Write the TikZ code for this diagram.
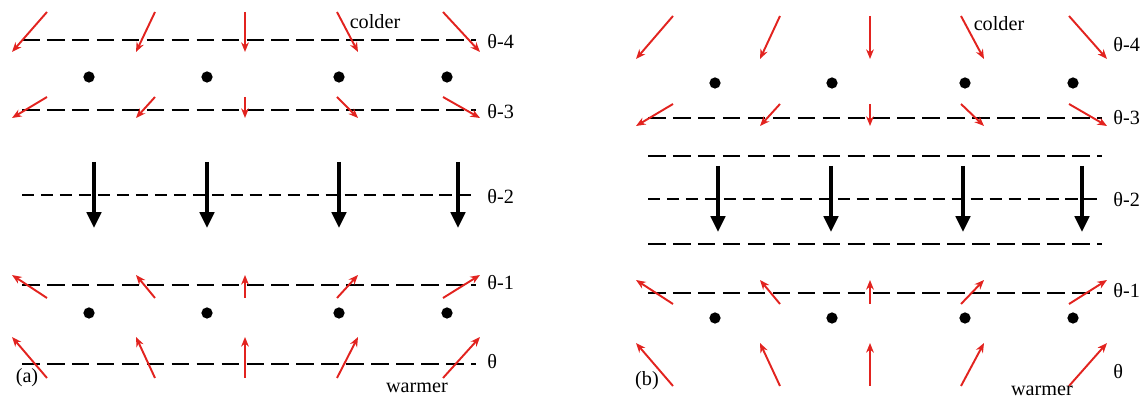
\documentclass[tikz,border=0pt]{standalone}
\usepackage{fontspec}
\setmainfont{Liberation Serif}
\usetikzlibrary{arrows.meta}
\definecolor{vecred}{HTML}{E2231F}

\begin{document}
\begin{tikzpicture}[
  x=0.02cm, y=-0.02cm,
  isen/.style={line width=1.5pt, dash pattern=on 10pt off 4.2pt},
  isenfine/.style={line width=1.5pt, dash pattern=on 7pt off 3.8pt},
  wind/.style={-{Stealth[length=5.5pt,width=4.4pt]}, color=vecred, line width=1.1pt},
  flow/.style={-{Triangle[length=9pt,width=8pt]}, line width=2.4pt},
  lbl/.style={font=\fontsize{11.5}{13}\selectfont, inner sep=0pt}
]
\useasboundingbox (0,0) rectangle (1143,401);

% (a) isentropes
\draw[isen] (22,40) -- (476,40);
\draw[isen] (22,110) -- (476,110);
\draw[isenfine] (22,195) -- (476,195);
\draw[isen] (22,285) -- (476,285);
\draw[isen] (22,364) -- (476,364);

% (a) parcel motions
\foreach \tx/\hx in {47/12,155/136,245/245,337/358,443/480} {
  \draw[wind] (\tx,12) -- (\hx,52);
  \draw[wind] (\tx,97) -- (\hx,118);
  \draw[wind] (\tx,298) -- (\hx,275);
  \draw[wind] (\tx,378) -- (\hx,337);
}
\foreach \px in {89,207,339,447} {
  \fill (\px,77) circle[radius=3.2pt];
  \fill (\px,313) circle[radius=3.2pt];
}
\foreach \px in {94,207,339,458}
  \draw[flow] (\px,162) -- (\px,228);

\node[lbl, anchor=west] (a4) at (487,42) {θ-4};
\node[lbl, anchor=west] (a3) at (487,112) {θ-3};
\node[lbl, anchor=west] (a2) at (487,197) {θ-2};
\node[lbl, anchor=west] (a1) at (487,283) {θ-1};
\node[lbl, anchor=west] (a0) at (487,362) {θ};
\node[lbl] (acold) at (375,22) {colder};
\node[lbl] (awarm) at (417,388) {warmer};
\node[lbl] (atag) at (27,378) {(a)};

% (b) isentropes
\draw[isen] (648,118) -- (1102,118);
\draw[isen] (648,156) -- (1102,156);
\draw[isenfine] (648,199) -- (1102,199);
\draw[isen] (648,244) -- (1102,244);
\draw[isen] (648,293) -- (1102,293);

% (b) parcel motions
\foreach \tx/\hx in {673/636,780/760,870/870,961/984,1069/1107} {
  \draw[wind] (\tx,16) -- (\hx,59);
  \draw[wind] (\tx,104) -- (\hx,126);
  \draw[wind] (\tx,304) -- (\hx,280);
  \draw[wind] (\tx,386) -- (\hx,343);
}
\foreach \px in {715,832,965,1073} {
  \fill (\px,83) circle[radius=3.2pt];
  \fill (\px,318) circle[radius=3.2pt];
}
\foreach \px in {718,831,963,1082}
  \draw[flow] (\px,166) -- (\px,232);

\node[lbl, anchor=west] (b4) at (1113,45) {θ-4};
\node[lbl, anchor=west] (b3) at (1113,118) {θ-3};
\node[lbl, anchor=west] (b2) at (1113,200) {θ-2};
\node[lbl, anchor=west] (b1) at (1113,291) {θ-1};
\node[lbl, anchor=west] (b0) at (1113,372) {θ};
\node[lbl] (bcold) at (999,24) {colder};
\node[lbl] (bwarm) at (1042,391) {warmer};
\node[lbl] (btag) at (647,381) {(b)};
\end{tikzpicture}
\end{document}
